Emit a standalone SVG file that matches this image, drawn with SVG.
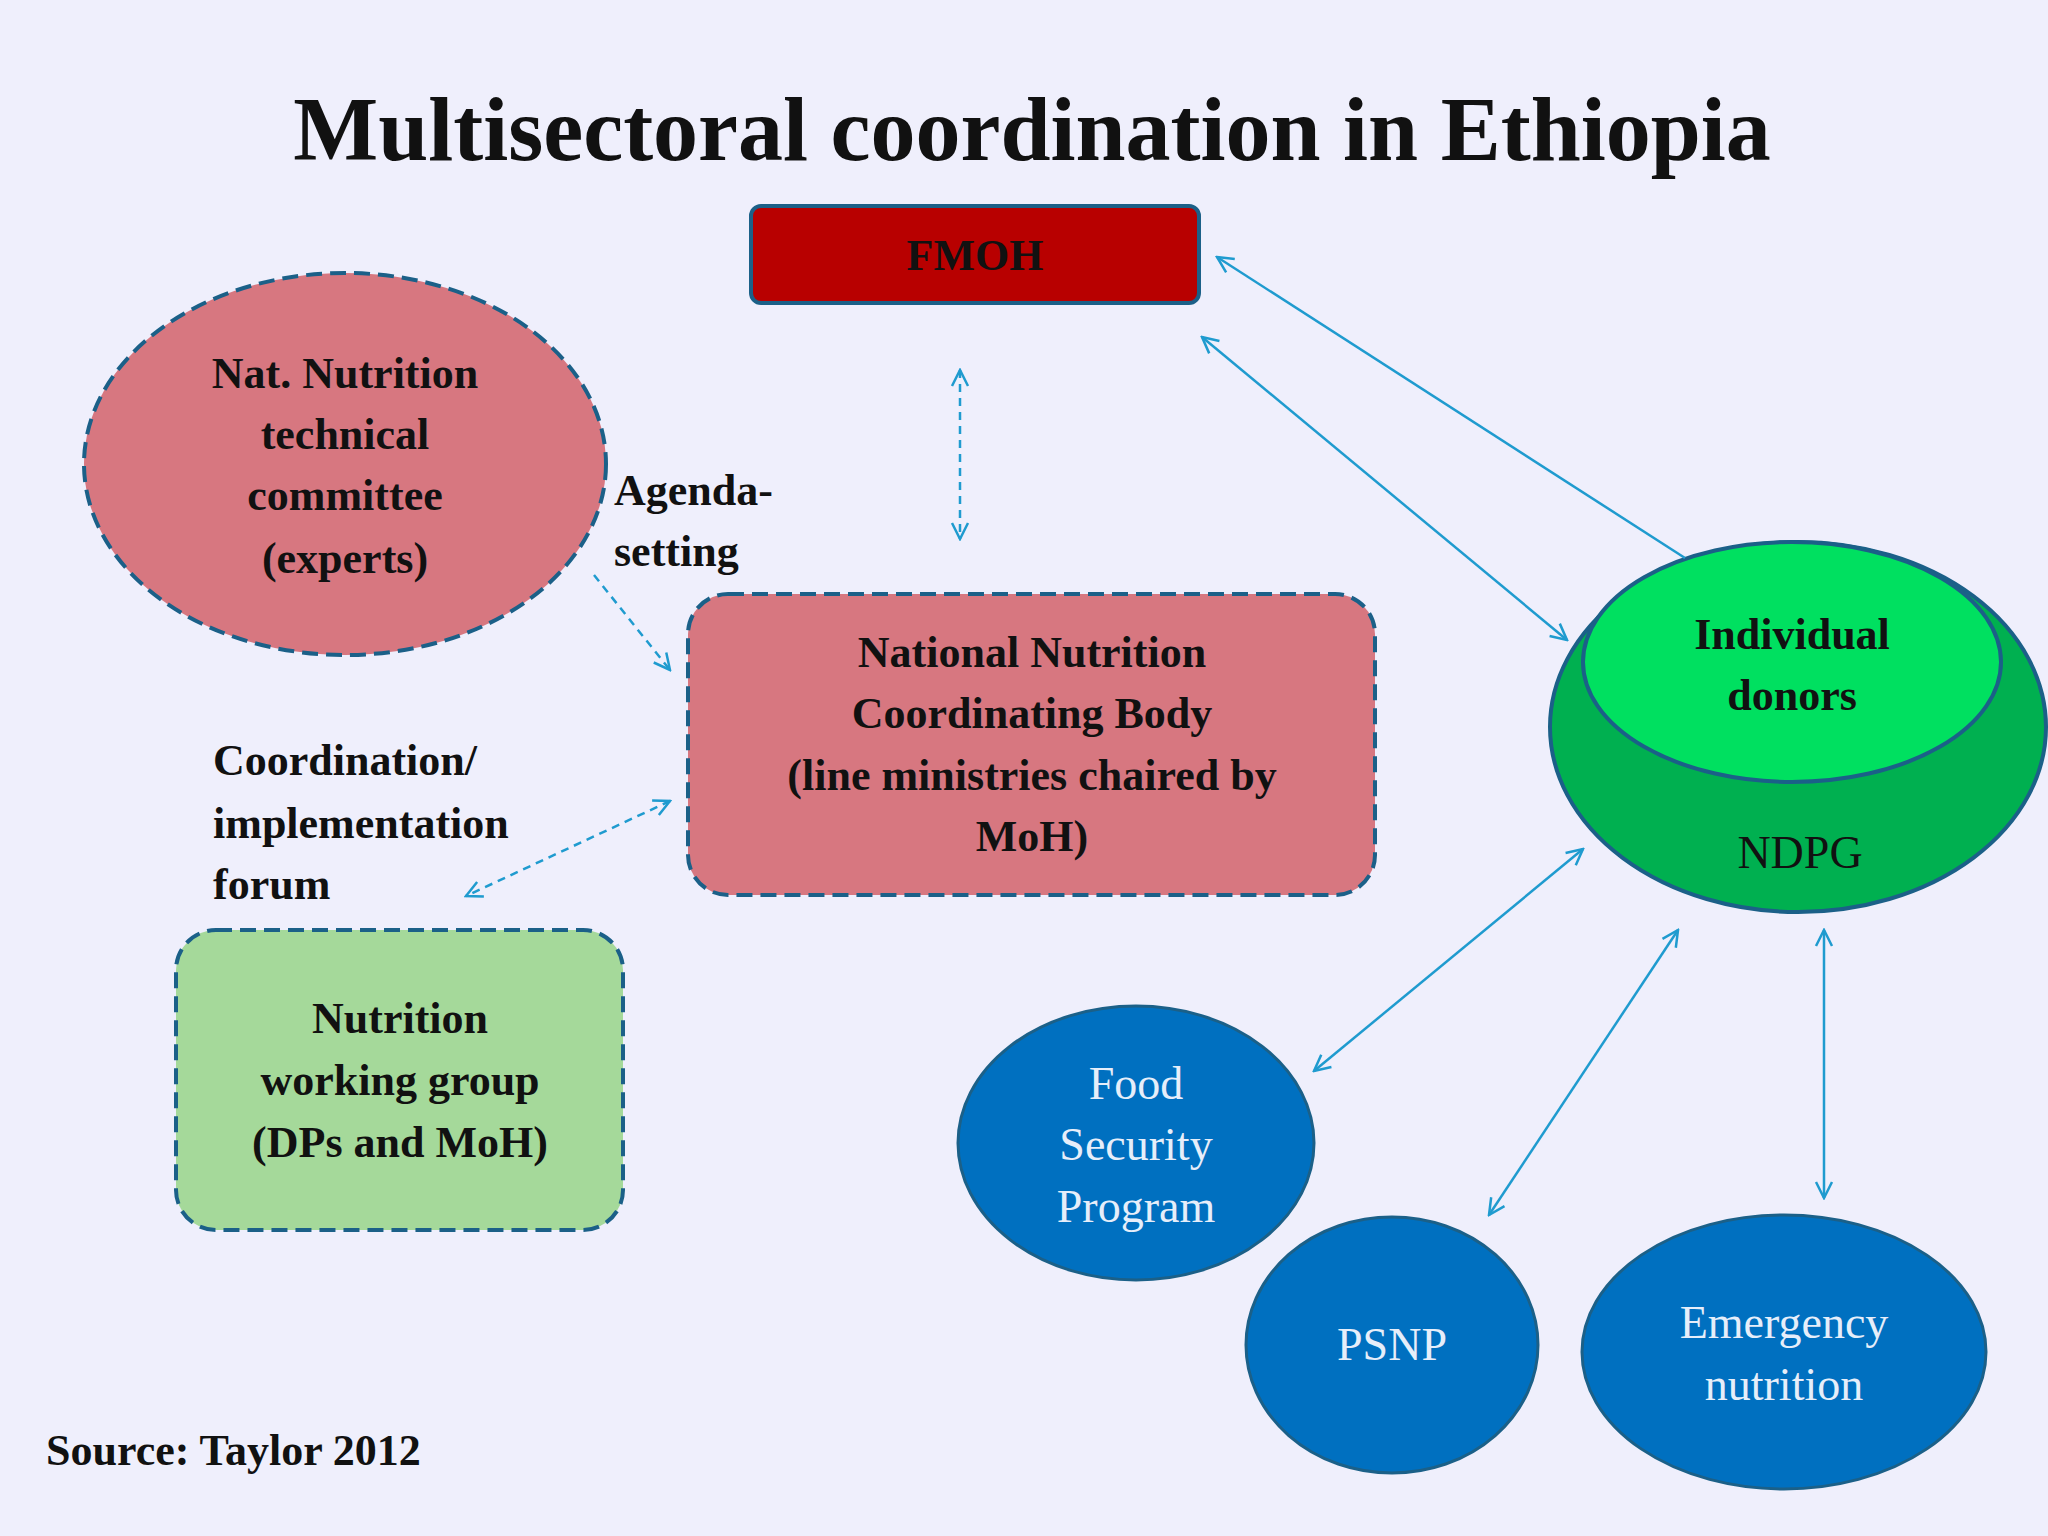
<svg xmlns="http://www.w3.org/2000/svg" width="2048" height="1536" viewBox="0 0 2048 1536">
<defs>
<marker id="a" viewBox="0 0 20 20" refX="18" refY="10" markerWidth="20" markerHeight="20" markerUnits="userSpaceOnUse" orient="auto-start-reverse">
<path d="M2,2 L18,10 L2,18" fill="none" stroke="#1f9bcf" stroke-width="2.5"/>
</marker>
</defs>
<style>
.t{font-family:"Liberation Serif",serif;font-weight:bold;fill:#111;text-anchor:middle}
.w{font-family:"Liberation Serif",serif;fill:#e6eefa;text-anchor:middle;font-size:46px}
.c{stroke:#1f9bcf;stroke-width:2.5;fill:none}
.d{stroke-dasharray:8 6}
.ds{stroke:#1b6088;stroke-width:4;stroke-dasharray:16 8}
</style>
<rect width="2048" height="1536" fill="#efeffc"/>
<text class="t" x="1032" y="160" font-size="90">Multisectoral coordination in Ethiopia</text>
<g id="fmoh"><rect x="751" y="206" width="448" height="97" rx="10" fill="#b80000" stroke="#1b6088" stroke-width="4"/>
<text class="t" x="975" y="270" font-size="44">FMOH</text></g>
<g id="nntc"><ellipse cx="345" cy="464" rx="261" ry="191" fill="#d77780" class="ds"/>
<text class="t" font-size="44"><tspan x="345" y="388">Nat. Nutrition</tspan><tspan x="345" y="449">technical</tspan><tspan x="345" y="510">committee</tspan><tspan x="345" y="573">(experts)</tspan></text></g>
<g id="agenda"><text class="t" font-size="44" text-anchor="start" style="text-anchor:start"><tspan x="614" y="505">Agenda-</tspan><tspan x="614" y="566">setting</tspan></text></g>
<g id="nncb"><rect x="688" y="594" width="687" height="301" rx="40" fill="#d77780" class="ds"/>
<text class="t" font-size="44"><tspan x="1032" y="667">National Nutrition</tspan><tspan x="1032" y="728">Coordinating Body</tspan><tspan x="1032" y="790">(line ministries chaired by</tspan><tspan x="1032" y="851">MoH)</tspan></text></g>
<g id="coord"><text class="t" font-size="44" style="text-anchor:start"><tspan x="213" y="775">Coordination/</tspan><tspan x="213" y="838">implementation</tspan><tspan x="213" y="899">forum</tspan></text></g>
<g id="nwg"><rect x="176" y="930" width="447" height="300" rx="40" fill="#a5d99a" class="ds"/>
<text class="t" font-size="44"><tspan x="400" y="1033">Nutrition</tspan><tspan x="400" y="1095">working group</tspan><tspan x="400" y="1157">(DPs and MoH)</tspan></text></g>
<g id="ndpg"><ellipse cx="1798" cy="727" rx="248" ry="185" fill="#00b050" stroke="#1b6088" stroke-width="4"/>
<ellipse cx="1792" cy="662" rx="209" ry="120" fill="#00e060" stroke="#1b6088" stroke-width="4"/>
<text class="t" font-size="44"><tspan x="1792" y="649">Individual</tspan><tspan x="1792" y="710">donors</tspan></text>
<text class="t" font-size="46" font-weight="normal" style="font-weight:normal" x="1800" y="868">NDPG</text></g>
<g id="fsp"><ellipse cx="1136" cy="1143" rx="178" ry="137" fill="#0070c0" stroke="#1b6088" stroke-width="3"/>
<text class="w"><tspan x="1136" y="1099">Food</tspan><tspan x="1136" y="1160">Security</tspan><tspan x="1136" y="1222">Program</tspan></text></g>
<g id="psnp"><ellipse cx="1392" cy="1345" rx="146" ry="128" fill="#0070c0" stroke="#1b6088" stroke-width="3"/>
<text class="w" x="1392" y="1360">PSNP</text></g>
<g id="emerg"><ellipse cx="1784" cy="1352" rx="202" ry="137" fill="#0070c0" stroke="#1b6088" stroke-width="3"/>
<text class="w"><tspan x="1784" y="1338">Emergency</tspan><tspan x="1784" y="1400">nutrition</tspan></text></g>
<g id="source"><text class="t" font-size="44" style="text-anchor:start" x="46" y="1465">Source: Taylor 2012</text></g>
<g id="connectors">
<line class="c" x1="1685" y1="558" x2="1217" y2="257" marker-end="url(#a)"/>
<line class="c" x1="1202" y1="337" x2="1567" y2="640" marker-start="url(#a)" marker-end="url(#a)"/>
<line class="c d" x1="960" y1="370" x2="960" y2="539" marker-start="url(#a)" marker-end="url(#a)"/>
<line class="c d" x1="594" y1="575" x2="670" y2="670" marker-end="url(#a)"/>
<line class="c d" x1="670" y1="801" x2="466" y2="896" marker-start="url(#a)" marker-end="url(#a)"/>
<line class="c" x1="1583" y1="849" x2="1314" y2="1071" marker-start="url(#a)" marker-end="url(#a)"/>
<line class="c" x1="1678" y1="930" x2="1489" y2="1215" marker-start="url(#a)" marker-end="url(#a)"/>
<line class="c" x1="1824" y1="930" x2="1824" y2="1198" marker-start="url(#a)" marker-end="url(#a)"/>
</g>
</svg>
